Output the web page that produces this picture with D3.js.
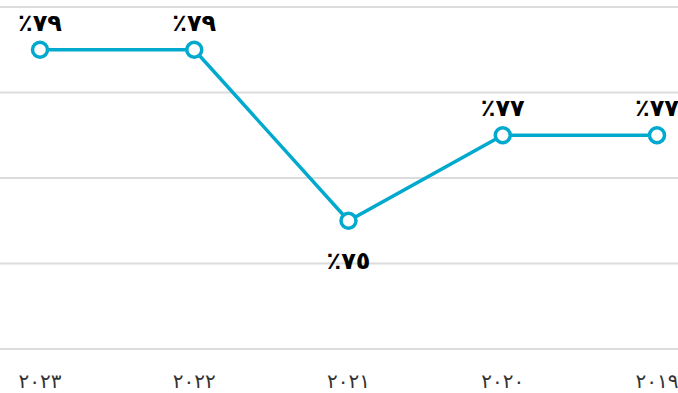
<!DOCTYPE html>
<html>
<head>
<meta charset="utf-8">
<script src="https://cdn.jsdelivr.net/npm/d3@7"></script>
<style>
  html, body { margin: 0; padding: 0; background: #ffffff; overflow: hidden; }
  svg { display: block; }
</style>
</head>
<body>
<svg id="chart" width="678" height="393"></svg>
<script>
// Years, oldest to newest; the axis runs right-to-left
const years = ["2019", "2020", "2021", "2022", "2023"];
const yearLabels = ["٢٠١٩", "٢٠٢٠", "٢٠٢١", "٢٠٢٢", "٢٠٢٣"];
const values = [77, 77, 75, 79, 79];
const valueLabels = ["٪٧٧", "٪٧٧", "٪٧٥", "٪٧٩", "٪٧٩"];
const gridTicks = [72, 74, 76, 78, 80];

const W = 678, H = 393;
const lineColor = "#00a9cd";

const svg = d3.select("#chart");

const x = d3.scalePoint().domain(years).range([657, 40]);
const y = d3.scaleLinear().domain([72, 80]).range([349, 7]);

// horizontal gridlines
svg.append("g").selectAll("line")
  .data(gridTicks)
  .join("line")
  .attr("x1", 0).attr("x2", W)
  .attr("y1", d => y(d)).attr("y2", d => y(d))
  .attr("stroke", "#dcdcdc")
  .attr("stroke-width", 2);

const pts = years.map((yr, i) => ({ yr, v: values[i], label: valueLabels[i], yl: yearLabels[i] }));

// connecting line
svg.append("path")
  .datum(pts)
  .attr("fill", "none")
  .attr("stroke", lineColor)
  .attr("stroke-width", 3.5)
  .attr("d", d3.line().x(d => x(d.yr)).y(d => y(d.v)));

// markers
svg.append("g").selectAll("circle")
  .data(pts)
  .join("circle")
  .attr("cx", d => x(d.yr))
  .attr("cy", d => y(d.v))
  .attr("r", 7.5)
  .attr("fill", "#ffffff")
  .attr("stroke", lineColor)
  .attr("stroke-width", 3.5);

// value labels: above, except the low point which sits below
const minV = d3.min(values);
svg.append("g").selectAll("text")
  .data(pts)
  .join("text")
  .attr("x", d => x(d.yr))
  .attr("y", d => d.v === minV ? y(d.v) + 48 : y(d.v) - 19)
  .attr("text-anchor", "middle")
  .attr("font-family", "DejaVu Sans, sans-serif")
  .attr("font-weight", "bold")
  .attr("font-size", 24)
  .attr("fill", "#000000")
  .text(d => d.label);

// year labels along the bottom
svg.append("g").selectAll("text")
  .data(pts)
  .join("text")
  .attr("x", d => x(d.yr))
  .attr("y", 388)
  .attr("text-anchor", "middle")
  .attr("font-family", "DejaVu Sans, sans-serif")
  .attr("font-size", 20)
  .attr("fill", "#333333")
  .text(d => d.yl);
</script>
</body>
</html>
